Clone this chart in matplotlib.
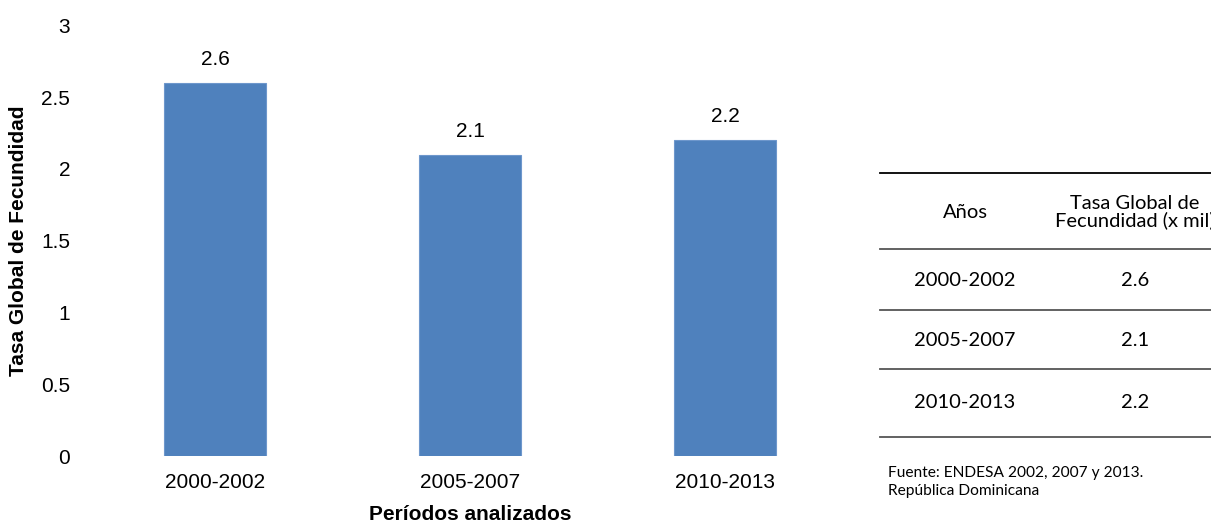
import matplotlib
matplotlib.use("Agg")
import matplotlib.pyplot as plt
from matplotlib.lines import Line2D

categories = ["2000-2002", "2005-2007", "2010-2013"]
values = [2.6, 2.1, 2.2]
value_labels = ["2.6", "2.1", "2.2"]
yticks = [0, 0.5, 1, 1.5, 2, 2.5, 3]
ytick_labels = ["0", "0.5", "1", "1.5", "2", "2.5", "3"]
table_header = ["Años", "Tasa Global de\nFecundidad (x mil)"]
table_years = ["2000-2002", "2005-2007", "2010-2013"]
table_values = ["2.6", "2.1", "2.2"]
source_text = "Fuente: ENDESA 2002, 2007 y 2013.\nRepública Dominicana"

W, H = 1211, 525
fig = plt.figure(figsize=(W / 100, H / 100), dpi=100)
plt.rcParams['font.family'] = ['Liberation Sans', 'DejaVu Sans']

ax_l, ax_r, ax_t, ax_b = 87.5, 852.5, 25.5, 456
ax = fig.add_axes([ax_l / W, (H - ax_b) / H, (ax_r - ax_l) / W, (ax_b - ax_t) / H])
x = list(range(len(categories)))
ax.bar(x, values, width=0.4, color="#4F81BD", edgecolor="#6E97CC", linewidth=0.8)
for xi, v, lab in zip(x, values, value_labels):
    ax.annotate(lab, (xi, v), xytext=(0, 10), textcoords="offset points",
                ha="center", va="bottom", fontsize=15)
ax.set_xlim(-0.5, 2.5)
ax.set_ylim(0, 3)
ax.set_xticks(x)
ax.set_xticklabels(categories, fontsize=15)
ax.set_yticks(yticks)
ax.set_yticklabels(ytick_labels, fontsize=15)
ax.tick_params(axis="both", length=0)
ax.tick_params(axis="y", pad=12.5)
ax.tick_params(axis="x", pad=12)
for s in ax.spines.values():
    s.set_visible(False)
ax.set_xlabel("Períodos analizados", fontsize=15, fontweight="bold")
ax.set_ylabel("Tasa Global de Fecundidad", fontsize=15, fontweight="bold")
ax.xaxis.label.set_va("center")
ax.yaxis.label.set_va("center")
ax.xaxis.set_label_coords(0.5, (ax_b - 514) / (ax_b - ax_t))
ax.yaxis.set_label_coords((19 - ax_l) / (ax_r - ax_l), 0.5)

# Table
def fx(px):
    return px / W

def fy(py):
    return 1 - py / H

tf = ['Lato', 'DejaVu Sans']
fs_t = 14.5
fig.add_artist(Line2D([fx(880), fx(1211)], [fy(173), fy(173)], color="black", lw=1.3))
for yy in [249, 310, 369, 437]:
    fig.add_artist(Line2D([fx(880), fx(1211)], [fy(yy), fy(yy)], color="#555555", lw=1.3))
fig.text(fx(965), fy(212), table_header[0], ha="center", va="center", fontsize=fs_t, family=tf)
fig.text(fx(1135), fy(212), table_header[1], ha="center", va="center", fontsize=fs_t,
         family=tf, linespacing=1.0)
for yy, yr, val in zip([281, 340, 403], table_years, table_values):
    fig.text(fx(965), fy(yy), yr, ha="center", va="center", fontsize=fs_t, family=tf)
    fig.text(fx(1135), fy(yy), val, ha="center", va="center", fontsize=fs_t, family=tf)
fig.text(fx(888), fy(482), source_text, ha="left", va="center", fontsize=11.2, family=tf,
         linespacing=1.3)

fig.savefig("out.png", dpi=100)
